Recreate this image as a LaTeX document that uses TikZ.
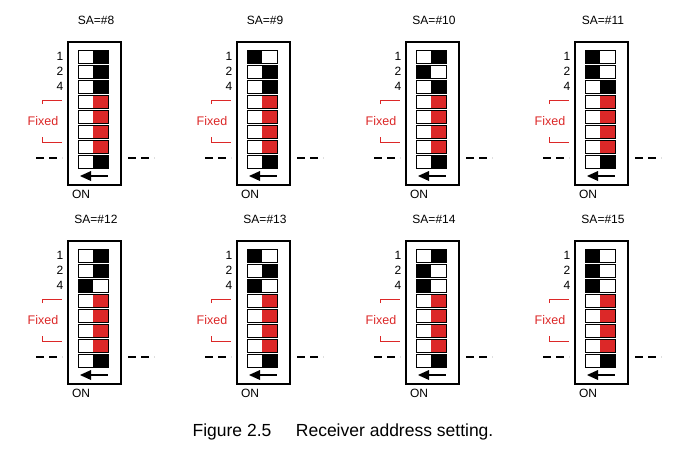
\documentclass[tikz,border=0pt]{standalone}
\usepackage{fontspec}
\setmainfont{Liberation Sans}
\definecolor{fred}{RGB}{220,40,40}
\begin{document}
\begin{tikzpicture}[x=1pt,y=-1pt,
  box/.style={draw=black,line width=1.3pt},
  cell/.style={draw=black,line width=0.9pt},
  lbl/.style={font=\fontsize{12}{13}\selectfont,inner sep=0pt},
  fix/.style={draw=fred,line width=0.8pt}]
\useasboundingbox (0,0) rectangle (684,467);
\foreach \n in {0,...,7}{
  \pgfmathtruncatemacro{\col}{mod(\n,4)}
  \pgfmathtruncatemacro{\rw}{int(\n/4)}
  \pgfmathsetmacro{\ox}{169*\col}
  \pgfmathsetmacro{\oy}{199*\rw}
  \pgfmathtruncatemacro{\val}{8+\n}
  \begin{scope}[shift={(\ox,\oy)}]
    \node[lbl] (sa\n) at (96,20) {SA=\#\val};
    \draw[box] (68,42) rectangle (121,185);
    \foreach \r in {1,...,8}{
      \pgfmathsetmacro{\ty}{50+15*(\r-1)}
      \pgfmathtruncatemacro{\bit}{\r<4 ? mod(int(\val/pow(2,\r-1)),2) : 0}
      \ifnum\r<4
        \ifnum\bit=1
          \fill (78,\ty) rectangle (93,\ty+13);
        \else
          \fill (93,\ty) rectangle (108,\ty+13);
        \fi
      \else
        \ifnum\r<8
          \fill[fred] (93,\ty) rectangle (108,\ty+13);
        \else
          \fill (93,\ty) rectangle (108,\ty+13);
        \fi
      \fi
      \draw[cell] (78,\ty) rectangle (108,\ty+13);
    }
    \node[lbl] (b1\n) at (60,56) {1};
    \node[lbl] (b2\n) at (60,71) {2};
    \node[lbl] (b4\n) at (60,86) {4};
    \draw[fix] (42,104) -- (42,100) -- (62,100);
    \draw[fix] (42,137) -- (42,142) -- (62,142);
    \node[lbl,text=fred,font=\fontsize{12.5}{13}\selectfont] (fx\n) at (43,121) {Fixed};
    \draw[line width=1.3pt,dash pattern=on 8pt off 5pt] (36,158) -- (62,158);
    \draw[line width=1.3pt,dash pattern=on 8pt off 5pt] (128,158) -- (154,158);
    \fill (80,176) -- (91,171) -- (91,181) -- cycle;
    \draw[line width=1.6pt] (88,176) -- (108,176);
    \node[lbl] (on\n) at (81,194) {ON};
  \end{scope}
}
\node[font=\fontsize{17.5}{19}\selectfont] (cap) at (343,432) {Figure 2.5\hspace{1.4em}Receiver address setting.};
\end{tikzpicture}
\end{document}
